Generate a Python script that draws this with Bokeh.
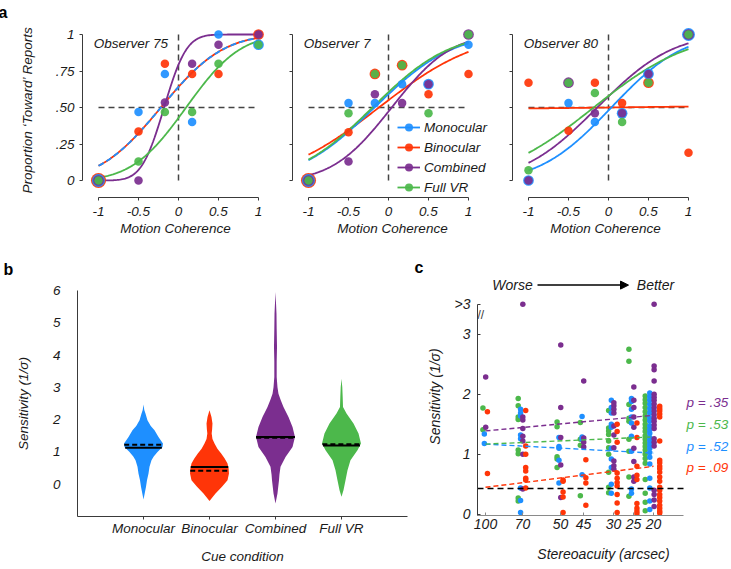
import math
import numpy as np
from bokeh.plotting import figure
from bokeh.layouts import row, column
from bokeh.models import (Range1d, FixedTicker, Legend, LegendItem, Label,
                          Arrow, NormalHead)
from bokeh.embed import file_html
from bokeh.resources import INLINE

FONT = "Liberation Sans"
TXT = "#1a1a1a"
AX = "#3a3a3a"

conditions = ["Monocular", "Binocular", "Combined", "Full VR"]
cond_colors = ["#1e8fff", "#ff3508", "#7b2e8f", "#4cb84b"]

# ---------------- panel a data ----------------
coherence = [-1, -0.5, -0.17, 0.17, 0.5, 1]
obs75_mono = [0.0, 0.47, 0.73, 0.40, 1.00, 0.93]
obs75_bino = [0.0, 0.335, 0.80, 0.73, 0.73, 1.00]
obs75_comb = [0.0, 0.00, 0.535, 0.80, 0.93, 1.00]
obs75_full = [0.0, 0.13, 0.47, 0.47, 0.80, 0.93]
obs7_mono = [0.0, 0.53, 0.53, 0.66, 0.66, 0.93]
obs7_bino = [0.0, 0.33, 0.73, 0.79, 0.59, 0.73]
obs7_comb = [0.0, 0.13, 0.59, 0.53, 0.66, 1.00]
obs7_full = [0.0, 0.46, 0.73, 0.79, 0.46, 1.00]
obs80_mono = [0.0, 0.53, 0.40, 0.46, 0.73, 1.00]
obs80_bino = [0.67, 0.34, 0.67, 0.53, 0.67, 0.19]
obs80_comb = [0.0, 0.67, 0.46, 0.46, 0.73, 1.00]
obs80_full = [0.07, 0.67, 0.60, 0.40, 0.67, 1.00]
# fitted cumulative-Gaussian parameters (mono, bino, comb, full)
obs75_mu = [-0.22, -0.22, -0.18, 0.095]
obs75_sigma = [0.61, 0.61, 0.22, 0.53]
obs7_mu = [-0.175, -0.12, 0.04, -0.20]
obs7_sigma = [0.76, 0.95, 0.58, 0.75]
obs80_mu = [0.035, 0.0, -0.14, -0.185]
obs80_sigma = [0.70, 60.0, 0.735, 0.926]
a_xticks = [-1, -0.5, 0, 0.5, 1]
a_xticklabels = ["-1", "-0.5", "0", "0.5", "1"]
a_yticks = [0, 0.25, 0.5, 0.75, 1]
a_yticklabels = ["0", ".25", ".50", ".75", "1"]
chance_a = 0.5

# ---------------- panel b data ----------------
violin_pos = [1, 2, 3, 4]
mono_vio_y = [2.47, 2.30, 2.19, 1.98, 1.80, 1.67, 1.46, 1.26, 1.15, 1.00, 0.86, 0.74, 0.54, 0.33, 0.12, -0.08, -0.29, -0.47]
mono_vio_w = [0, .012, .03, .06, .11, .167, .227, .295, .288, .212, .155, .121, .091, .076, .053, .038, .018, 0]
bino_vio_y = [2.29, 2.15, 2.08, 1.88, 1.70, 1.57, 1.40, 1.26, 1.10, 0.95, 0.80, 0.64, 0.48, 0.33, 0.12, -0.08, -0.29, -0.52]
bino_vio_w = [0, .02, .03, .045, .04, .033, .045, .076, .12, .177, .23, .273, .29, .295, .273, .189, .091, 0]
comb_vio_y = [5.95, 5.6, 5.28, 4.8, 4.25, 3.8, 3.32, 3.0, 2.8, 2.6, 2.39, 2.08, 1.77, 1.46, 1.15, 0.84, 0.54, 0.3, 0.12, -0.29, -0.6]
comb_vio_w = [0, .008, .015, .018, .023, .018, .018, .03, .045, .08, .121, .197, .258, .295, .258, .152, .076, .06, .053, .03, 0]
full_vio_y = [3.27, 3.0, 2.7, 2.39, 2.19, 1.88, 1.57, 1.26, 1.05, 0.74, 0.43, 0.12, -0.19, -0.39]
full_vio_w = [0, .012, .018, .023, .076, .182, .258, .295, .242, .136, .091, .061, .03, 0]
b_means = [1.13, 0.535, 1.46, 1.20]
b_medians = [1.22, 0.42, 1.44, 1.24]
b_yticks = [0, 1, 2, 3, 4, 5, 6]

# ---------------- panel c data ----------------
acuity_levels = [100, 70, 50, 45, 30, 25, 20]
acuity_axis_pos = [0, 3.7, 7.5, 9.8, 12.8, 14.8, 16.8]
sens_mono_by_acuity = [
    [1.34, 1.18],
    [1.75, 1.69, 1.64, 1.32, 1.26, 0.44, 0.23, 0.03],
    [1.28, 1.13, 1.10, 0.90, 0.52],
    [1.63, 1.29, 1.25, 0.66],
    [1.90, 1.78, 1.69, 1.50, 1.45, 1.10, 0.92, 0.78, 0.50, 0.35],
    [1.93, 1.88, 1.75, 1.62, 1.52, 1.30, 1.05, 0.42, 0.35],
    [2.02, 1.96, 1.90, 1.83, 1.76, 1.69, 1.61, 1.55, 1.47, 1.41, 1.35, 1.28, 1.22, 1.16, 1.10, 1.03, 0.95, 0.84, 0.60, 0.44, 0.22, 0.08],
]
sens_bino_by_acuity = [
    [1.71, 0.68],
    [1.73, 1.14, 1.00, 0.78, 0.72, 0.60, 0.57, 0.44],
    [0.57, 0.55, 0.37, 0.29, 0.03],
    [0.91, 0.61, 0.52, 0.15],
    [1.50, 1.38, 1.20, 0.69, 0.60, 0.53, 0.47, 0.33, 0.19, 0.03],
    [1.52, 1.28, 0.80, 0.65, 0.58, 0.18, 0.10, 0.05, 0.01],
    [1.80, 1.76, 1.72, 1.67, 1.62, 1.22, 0.90, 0.86, 0.80, 0.76, 0.70, 0.62, 0.55, 0.45, 0.40, 0.33, 0.28, 0.22, 0.15, 0.10, 0.05, 0.02],
]
sens_comb_by_acuity = [
    [2.29, 1.45],
    [5.80, 1.62, 1.57, 1.43, 1.30, 1.22, 1.00, 0.42],
    [2.82, 1.78, 1.28, 0.82, 0.28],
    [2.22, 1.27, 1.20, 1.12],
    [1.86, 1.81, 1.75, 1.69, 1.47, 1.32, 1.11, 0.89, 0.81, 0.75],
    [2.12, 1.90, 1.78, 1.62, 1.45, 1.10, 0.88, 0.62, 0.55],
    [4.30, 2.47, 2.41, 2.22, 2.00, 1.95, 1.90, 1.84, 1.78, 1.72, 1.66, 1.60, 1.55, 1.49, 1.43, 1.26, 1.20, 1.14, 0.40, 0.33, 0.24, 0.13],
]
sens_full_by_acuity = [
    [1.77, 1.41],
    [1.93, 1.81, 1.62, 1.58, 1.07, 1.01, 0.27, 0.22],
    [1.54, 1.46, 0.96, 0.92, 0.78],
    [1.53, 1.25, 1.15, 0.31],
    [1.73, 1.44, 1.39, 1.33, 1.22, 1.11, 1.00, 0.70, 0.45, 0.36],
    [2.75, 2.55, 1.83, 1.60, 1.55, 1.25, 1.05, 0.62, 0.30],
    [1.97, 1.91, 1.85, 1.78, 1.71, 1.64, 1.57, 1.50, 1.44, 1.38, 1.31, 1.25, 1.19, 1.13, 1.07, 1.00, 0.93, 0.85, 0.58, 0.35, 0.20, 0.06],
]
trend_at_100 = [1.17, 0.45, 1.39, 1.17]
trend_at_20 = [1.02, 0.80, 1.65, 1.29]
p_values = ["p = .52", "p = .09", "p = .35", "p = .53"]
p_label_y = [1.13, 0.78, 1.87, 1.50]
chance_c = 0.43
display_cap = 3.5
c_yticks = [0, 1, 2, 3, 3.5]
c_yticklabels = ["0", "1", "2", "3", ">3"]


def cum_normal(x, mu, sigma):
    return 0.5 * (1.0 + math.erf((x - mu) / (sigma * math.sqrt(2.0))))


def base_fig(w, h, xr, yr, ml, mr, mt, mb):
    p = figure(width=w, height=h, x_range=Range1d(*xr), y_range=Range1d(*yr),
               output_backend="svg", toolbar_location=None, tools="",
               min_border_left=ml, min_border_right=mr,
               min_border_top=mt, min_border_bottom=mb)
    p.frame_align = False
    p.outline_line_color = None
    p.xgrid.visible = False
    p.ygrid.visible = False
    return p


def style_axes(p, size):
    for ax in list(p.xaxis) + list(p.yaxis):
        ax.axis_line_color = AX
        ax.major_tick_line_color = AX
        ax.minor_tick_line_color = None
        ax.major_label_text_font = FONT
        ax.major_label_text_font_style = "italic"
        ax.major_label_text_font_size = size
        ax.major_label_text_color = TXT
        ax.axis_label_text_font = FONT
        ax.axis_label_text_font_style = "italic"
        ax.axis_label_text_font_size = size
        ax.axis_label_text_color = TXT


def letter(p, text, offset, standoff):
    p.title.text = text
    p.title.align = "left"
    p.title.offset = offset
    p.title.standoff = standoff
    p.title.text_font = FONT
    p.title.text_font_style = "bold"
    p.title.text_font_size = "16px"
    p.title.text_color = "black"


# ---------------- panel a ----------------
draw_order = [1, 0, 2, 3]


def make_a(name, series, mu, sigma, w, ml, mr, x_end, first, legend):
    p = base_fig(w, 240, (-1.2, x_end), (-0.1164, 1.0822), ml, mr, 22, 43)
    style_axes(p, "13.5px")
    p.xaxis.bounds = (coherence[0], coherence[-1])
    p.yaxis.bounds = (a_yticks[0], a_yticks[-1])
    p.xaxis.ticker = FixedTicker(ticks=a_xticks)
    p.xaxis.major_label_overrides = dict(zip(a_xticks, a_xticklabels))
    p.yaxis.ticker = FixedTicker(ticks=a_yticks)
    if first:
        p.yaxis.major_label_overrides = dict(zip(a_yticks, a_yticklabels))
        p.yaxis.axis_label = "Proportion \u2018Toward\u2019 Reports"
    else:
        p.yaxis.major_label_overrides = {t: "" for t in a_yticks}
    p.xaxis.axis_label = "Motion Coherence"
    p.xaxis.major_tick_in = 0
    p.xaxis.major_tick_out = 3
    p.xaxis.major_label_standoff = 6
    p.xaxis.axis_label_standoff = 2
    p.yaxis.major_tick_in = 0
    p.yaxis.major_tick_out = 3
    p.yaxis.major_label_standoff = 5
    p.yaxis.axis_label_standoff = 18

    # reference lines
    p.segment(x0=[0, coherence[0]], y0=[a_yticks[0], chance_a],
              x1=[0, coherence[-1]], y1=[a_yticks[-1], chance_a],
              line_color="#444444", line_width=1.5, line_dash="6 4")

    xs = np.linspace(coherence[0], coherence[-1], 121)
    line_rs = {}
    for k in draw_order:
        ys = [cum_normal(x, mu[k], sigma[k]) for x in xs]
        dash = "6 3" if (first and k == 0) else "solid"
        line_rs[k] = p.line(xs, ys, line_color=cond_colors[k], line_width=1.8,
                            line_dash=dash)

    pt_rs = {}
    for idx, k in enumerate(draw_order):
        later = [series[j] for j in draw_order[idx + 1:]]
        sizes = []
        for i, v in enumerate(series[k]):
            n = sum(1 for s in later if abs(s[i] - v) < 0.02)
            sizes.append(8.5 + 2.2 * n)
        pt_rs[k] = p.scatter(coherence, series[k], size=sizes,
                             fill_color=cond_colors[k], line_color=None,
                             fill_alpha=0.92)

    p.add_layout(Label(x=-1.06, y=0.94, text=name, text_font=FONT,
                       text_font_style="italic", text_font_size="13.5px",
                       text_color=TXT, text_baseline="middle"))
    if legend:
        items = [LegendItem(label=conditions[k], renderers=[line_rs[k], pt_rs[k]])
                 for k in range(4)]
        lg = Legend(items=items, location=(105, 0), label_text_font=FONT,
                    label_text_font_style="italic", label_text_font_size="13.5px",
                    label_text_color=TXT, glyph_width=23, glyph_height=20,
                    label_height=20, label_standoff=4, spacing=0, padding=0,
                    margin=0, border_line_color=None, background_fill_alpha=0)
        p.add_layout(lg)
    return p


a1 = make_a("Observer 75", [obs75_mono, obs75_bino, obs75_comb, obs75_full],
            obs75_mu, obs75_sigma, 268, 82, 0, 1.125, True, False)
a2 = make_a("Observer 7", [obs7_mono, obs7_bino, obs7_comb, obs7_full],
            obs7_mu, obs7_sigma, 224, 24, 0, 1.3, False, True)
a3 = make_a("Observer 80", [obs80_mono, obs80_bino, obs80_comb, obs80_full],
            obs80_mu, obs80_sigma, 237, 20, 31, 1.125, False, False)
letter(a1, "a", -84, 3)

# ---------------- panel b ----------------
b = base_fig(410, 327, (0, 5), (-1, 6), 77, 3, 50, 51)
style_axes(b, "13.5px")
b.xaxis.ticker = FixedTicker(ticks=violin_pos)
b.xaxis.major_label_overrides = dict(zip(violin_pos, conditions))
b.xaxis.major_tick_in = 0
b.xaxis.major_tick_out = 3
b.xaxis.major_label_standoff = 1
b.xaxis.axis_label = "Cue condition"
b.xaxis.axis_label_standoff = 10
b.yaxis.ticker = FixedTicker(ticks=b_yticks)
b.yaxis.major_tick_in = 0
b.yaxis.major_tick_out = 0
b.yaxis.major_label_standoff = 17
b.yaxis.axis_label = "Sensitivity (1/\u03c3)"
b.yaxis.axis_label_standoff = 19

vio_ys = [mono_vio_y, bino_vio_y, comb_vio_y, full_vio_y]
vio_ws = [mono_vio_w, bino_vio_w, comb_vio_w, full_vio_w]
for k in range(4):
    cx = violin_pos[k]
    yy, ww = vio_ys[k], vio_ws[k]
    px = [cx + w for w in ww] + [cx - w for w in reversed(ww)]
    py = list(yy) + list(reversed(yy))
    b.patch(px, py, fill_color=cond_colors[k], line_color=None)
for k in range(4):
    cx = violin_pos[k]
    yy = vio_ys[k][::-1]
    ww = vio_ws[k][::-1]
    hm = float(np.interp(b_means[k], yy, ww))
    hd = float(np.interp(b_medians[k], yy, ww))
    b.segment(x0=[cx - hd], x1=[cx + hd], y0=[b_medians[k]], y1=[b_medians[k]],
              line_color="black", line_width=2, line_dash="5 3")
    b.segment(x0=[cx - hm], x1=[cx + hm], y0=[b_means[k]], y1=[b_means[k]],
              line_color="black", line_width=2)
letter(b, "b", -74, 25)

# ---------------- panel c ----------------
c = base_fig(319, 327, (-0.8, 24.4), (-0.02, 3.947), 67, 0, 37, 52)
style_axes(c, "14px")
c.yaxis.bounds = (-0.02, display_cap)
c.yaxis.ticker = FixedTicker(ticks=c_yticks)
c.yaxis.major_label_overrides = dict(zip(c_yticks, c_yticklabels))
c.yaxis.major_tick_in = 3
c.yaxis.major_tick_out = 0
c.yaxis.major_label_standoff = 7
c.yaxis.axis_label = "Sensitivity (1/\u03c3)"
c.yaxis.axis_label_standoff = 9
c.xaxis.bounds = (-0.8, 19.8)
c.xaxis.ticker = FixedTicker(ticks=acuity_axis_pos)
c.xaxis.major_label_overrides = dict(zip(acuity_axis_pos, [str(a) for a in acuity_levels]))
c.xaxis.major_tick_in = 3
c.xaxis.major_tick_out = 0
c.xaxis.axis_line_color = "#8a8a8a"
c.xaxis.major_tick_line_color = "#8a8a8a"
c.xaxis.major_label_standoff = 3
c.xaxis.axis_label = "Stereoacuity (arcsec)"
c.xaxis.axis_label_standoff = 14

sens_by_acuity = [sens_mono_by_acuity, sens_bino_by_acuity,
                  sens_comb_by_acuity, sens_full_by_acuity]
within_offset = [-0.18, 0.30, 0.03, -0.40]
for k in [3, 0, 2, 1]:
    xs, ys = [], []
    for g, vals in enumerate(sens_by_acuity[k]):
        off = within_offset[k] * (0.5 + len(vals) / 14.0)
        for v in vals:
            xs.append(acuity_axis_pos[g] + off)
            ys.append(min(v, display_cap))
    c.scatter(xs, ys, size=5.5, fill_color=cond_colors[k], line_color=None)

c.line([-0.8, 20.0], [chance_c, chance_c], line_color="black", line_width=1.3,
       line_dash="6 4")
for k in [1, 0, 3, 2]:
    c.line([acuity_axis_pos[0], acuity_axis_pos[-1]], [trend_at_100[k], trend_at_20[k]],
           line_color=cond_colors[k], line_width=1.4, line_dash="5 3")
for k in range(4):
    c.add_layout(Label(x=20.1, y=p_label_y[k], text=p_values[k], text_font=FONT,
                       text_font_style="italic", text_font_size="13.5px",
                       text_color=cond_colors[k], text_baseline="middle"))

c.add_layout(Label(x=2.7, y=3.82, text="Worse", text_font=FONT, text_font_style="italic",
                   text_font_size="14px", text_color=TXT, text_align="center",
                   text_baseline="middle"))
c.add_layout(Label(x=17.0, y=3.82, text="Better", text_font=FONT, text_font_style="italic",
                   text_font_size="14px", text_color=TXT, text_align="center",
                   text_baseline="middle"))
c.add_layout(Arrow(x_start=5.2, y_start=3.82, x_end=14.3, y_end=3.82,
                   line_color="black", line_width=1.5,
                   end=NormalHead(size=8, fill_color="black", line_color="black")))
c.add_layout(Label(x=-0.8, y=3.33, text="//", text_font=FONT, text_font_size="12px",
                   text_color=AX, text_align="left", text_baseline="middle"))
letter(c, "c", -63, 3)

layout = column(row(a1, a2, a3), row(b, c))
open("out.html", "w").write(file_html(layout, INLINE))
